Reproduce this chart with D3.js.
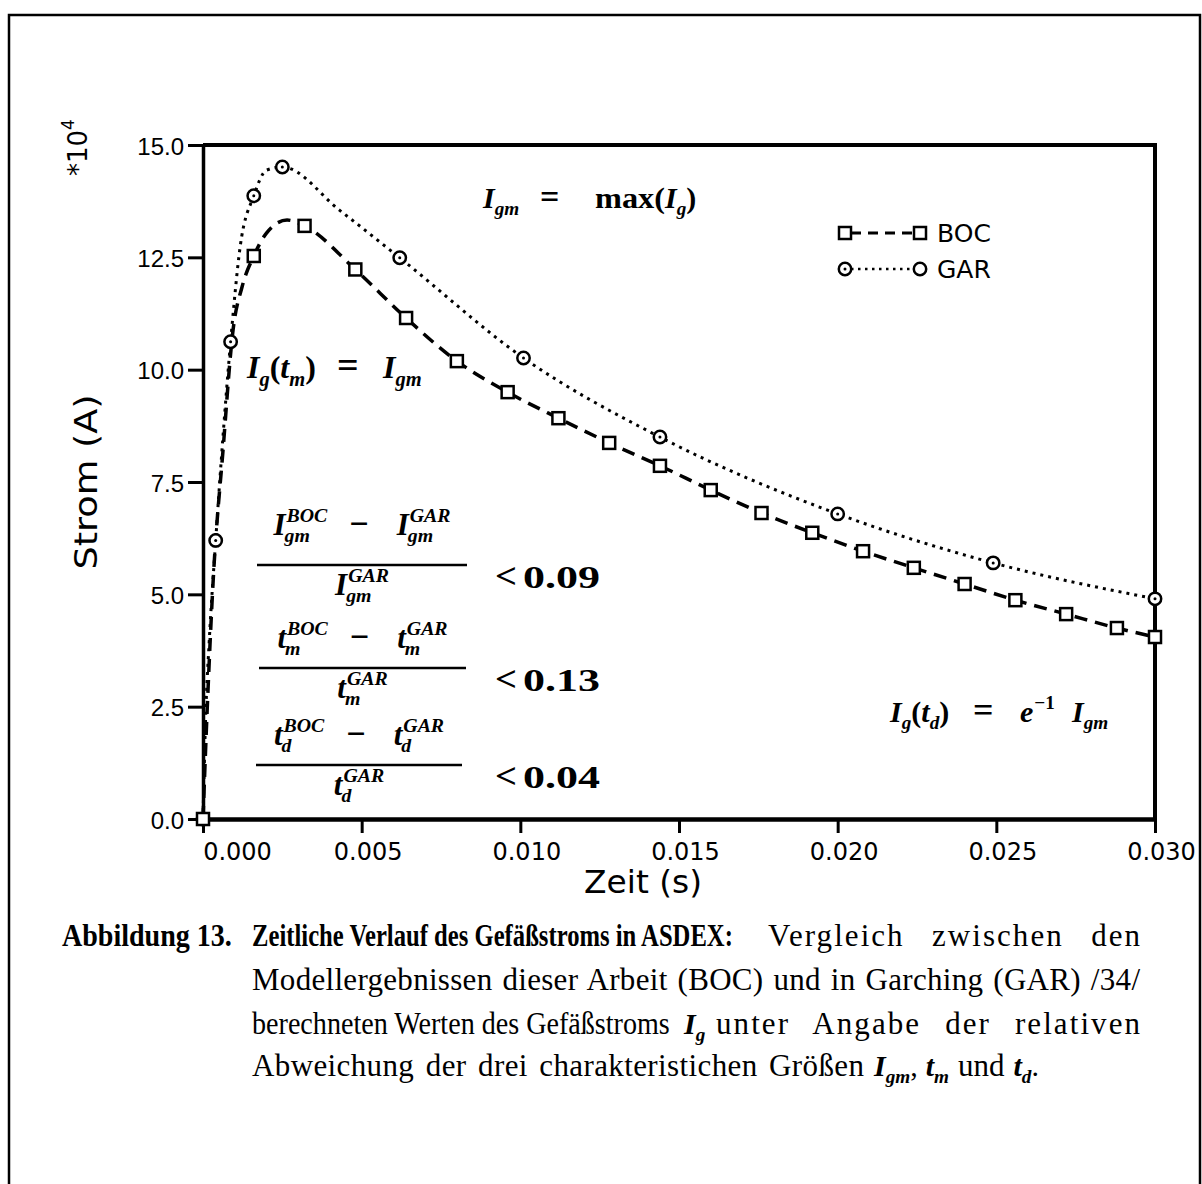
<!DOCTYPE html>
<html>
<head>
<meta charset="utf-8">
<script src="https://cdn.jsdelivr.net/npm/d3@7"></script>
<style>
  html, body { margin: 0; padding: 0; background: #fff; }
  svg { display: block; }
</style>
</head>
<body>
<script>
// values (current in units of 1e4 A, time in s)
const bocLineT = [0, 0.00013, 0.00032, 0.00063, 0.00095, 0.00123, 0.0016, 0.0020, 0.00265, 0.0032, 0.0048, 0.0064, 0.0080, 0.0096, 0.0112, 0.0128, 0.0144, 0.0160, 0.0176, 0.0192, 0.0208, 0.0224, 0.0240, 0.0256, 0.0272, 0.0288, 0.0300]
const bocLineI = [0, 2.4, 5.3, 8.2, 10.9, 11.84, 12.53, 13.04, 13.33, 13.20, 12.23, 11.15, 10.19, 9.50, 8.92, 8.37, 7.86, 7.32, 6.81, 6.37, 5.96, 5.59, 5.23, 4.87, 4.56, 4.25, 4.05]
const bocMarkT = [0, 0.0016, 0.0032, 0.0048, 0.0064, 0.0080, 0.0096, 0.0112, 0.0128, 0.0144, 0.0160, 0.0176, 0.0192, 0.0208, 0.0224, 0.0240, 0.0256, 0.0272, 0.0288, 0.0300]
const bocMarkI = [0, 12.53, 13.20, 12.23, 11.15, 10.19, 9.50, 8.92, 8.37, 7.86, 7.32, 6.81, 6.37, 5.96, 5.59, 5.23, 4.87, 4.56, 4.25, 4.05]

const garLineT = [0, 0.00008, 0.0002, 0.0004, 0.00087, 0.00117, 0.0016, 0.0020, 0.0025, 0.0043, 0.0062, 0.0101, 0.0144, 0.0200, 0.0249, 0.0300]
const garLineI = [0, 2.2, 4.0, 6.2, 10.62, 12.73, 13.87, 14.44, 14.51, 13.55, 12.49, 10.26, 8.50, 6.79, 5.70, 4.90]
const garMarkT = [0, 0.0004, 0.00087, 0.0016, 0.0025, 0.0062, 0.0101, 0.0144, 0.0200, 0.0249, 0.0300]
const garMarkI = [0, 6.2, 10.62, 13.87, 14.51, 12.49, 10.26, 8.50, 6.79, 5.70, 4.90]

const xTicks = [0, 0.005, 0.010, 0.015, 0.020, 0.025, 0.030]
const yTicks = [0, 2.5, 5.0, 7.5, 10.0, 12.5, 15.0]
const seriesNames = ['BOC', 'GAR']

const svgWidth = 1202
const svgHeight = 1184
const margin = {top: 145, right: 47, bottom: 365, left: 203}
const gWidth = svgWidth - margin.left - margin.right
const gHeight = svgHeight - margin.top - margin.bottom

const serif = '"Liberation Serif", "Times New Roman", serif'
const sans = '"DejaVu Sans", sans-serif'

const svg = d3.select('body').append('svg')
  .attr('width', svgWidth)
  .attr('height', svgHeight)

// outer frame of the page
svg.append('rect')
  .attr('x', 9).attr('y', 15)
  .attr('width', 1191).attr('height', 1200)
  .attr('fill', 'none').attr('stroke', '#000').attr('stroke-width', 2.5)

const x = d3.scaleLinear().domain([0, 0.03]).range([0, gWidth])
const y = d3.scaleLinear().domain([0, 15]).range([gHeight, 0])

const g = svg.append('g').attr('transform', 'translate(' + margin.left + ',' + margin.top + ')')

// plot box (top + right)
g.append('path')
  .attr('d', 'M0,0H' + gWidth + 'V' + gHeight)
  .attr('fill', 'none').attr('stroke', '#000').attr('stroke-width', 4)

// axes
const xAxis = d3.axisBottom(x).tickValues(xTicks).tickFormat(d3.format('.3f')).tickSize(14).tickSizeOuter(0)
const yAxis = d3.axisLeft(y).tickValues(yTicks).tickFormat(d3.format('.1f')).tickSize(15).tickSizeOuter(0)

const gx = g.append('g').attr('transform', 'translate(0,' + gHeight + ')').call(xAxis)
gx.select('.domain').attr('stroke-width', 4.5)
gx.selectAll('.tick line').attr('stroke-width', 3)
gx.selectAll('.tick text')
  .attr('font-family', sans).attr('font-size', 24).attr('fill', '#000')
  .attr('y', 0).attr('dy', 41)
  .attr('x', function(d) { return d === 0 ? 34 : 6 })

const gy = g.append('g').call(yAxis)
gy.select('.domain').attr('stroke-width', 3.5)
gy.selectAll('.tick line').attr('stroke-width', 3)
gy.selectAll('.tick text')
  .attr('font-family', '"Liberation Sans", Arial, sans-serif').attr('font-size', 24).attr('fill', '#000')
  .attr('x', -19).attr('dy', 9)

// lines
const line = d3.line().curve(d3.curveMonotoneX)
  .x(function(d) { return x(d[0]) })
  .y(function(d) { return y(d[1]) })

const bocLine = bocLineT.map(function(t, i) { return [t, bocLineI[i]] })
const garLine = garLineT.map(function(t, i) { return [t, garLineI[i]] })

g.append('path').datum(garLine).attr('d', line)
  .attr('fill', 'none').attr('stroke', '#000').attr('stroke-width', 3)
  .attr('stroke-dasharray', '3,5')
g.append('path').datum(bocLine).attr('d', line)
  .attr('fill', 'none').attr('stroke', '#000').attr('stroke-width', 3.5)
  .attr('stroke-dasharray', '13,8')

function square(sel, cx, cy) {
  sel.append('rect').attr('x', cx - 6).attr('y', cy - 6).attr('width', 12).attr('height', 12)
    .attr('fill', '#fff').attr('stroke', '#000').attr('stroke-width', 2.5)
}
function circle(sel, cx, cy, dot) {
  sel.append('circle').attr('cx', cx).attr('cy', cy).attr('r', 6.2)
    .attr('fill', '#fff').attr('stroke', '#000').attr('stroke-width', 2.5)
  if (dot) sel.append('circle').attr('cx', cx).attr('cy', cy).attr('r', 1.5).attr('fill', '#000')
}

const marks = g.append('g')
garMarkT.forEach(function(t, i) { circle(marks, x(t), y(garMarkI[i]), true) })
bocMarkT.forEach(function(t, i) { square(marks, x(t), y(bocMarkI[i])) })

// legend
const legend = svg.append('g').attr('transform', 'translate(845,233)')
seriesNames.forEach(function(name, i) {
  const row = legend.append('g').attr('transform', 'translate(0,' + i * 36 + ')')
  row.append('line').attr('x1', 6).attr('x2', 69).attr('y1', 0).attr('y2', 0)
    .attr('stroke', '#000')
    .attr('stroke-width', i === 0 ? 3 : 2.5)
    .attr('stroke-dasharray', i === 0 ? '10,7' : '2.5,4.5')
  if (i === 0) { square(row, 0, 0); square(row, 75, 0) }
  else { circle(row, 0, 0, true); circle(row, 75, 0, false) }
  row.append('text').attr('x', 92).attr('y', 9)
    .attr('font-family', sans).attr('font-size', 25).text(name)
})

// axis titles
svg.append('text')
  .attr('transform', 'translate(97,482) rotate(-90)')
  .attr('text-anchor', 'middle')
  .attr('font-family', sans).attr('font-size', 32)
  .attr('textLength', 175).attr('lengthAdjust', 'spacingAndGlyphs')
  .text('Strom (A)')

const mult = svg.append('text')
  .attr('transform', 'translate(87,176) rotate(-90)')
  .attr('font-family', sans).attr('font-size', 26)
mult.append('tspan').text('*10')
mult.append('tspan').attr('dy', -13).attr('font-size', 17).text('4')

svg.append('text')
  .attr('x', 643).attr('y', 893)
  .attr('text-anchor', 'middle')
  .attr('font-family', sans).attr('font-size', 32)
  .attr('textLength', 118).attr('lengthAdjust', 'spacingAndGlyphs')
  .text('Zeit (s)')

// rich text helper: pieces laid out left to right, with optional sub/superscripts
function styleText(t, f, size) {
  t.attr('font-family', serif).attr('font-size', size)
    .attr('font-weight', f.indexOf('b') >= 0 ? 'bold' : 'normal')
    .attr('font-style', f.indexOf('i') >= 0 ? 'italic' : 'normal')
}
function rich(parent, pieces, size, x0, y0, anchor) {
  const grp = parent.append('g')
  let cx = 0
  pieces.forEach(function(p) {
    if (p.at !== undefined) cx = p.at
    if (p.gap) { cx += p.gap; return }
    const ps = p.size || size
    let w = 0
    if (p.t) {
      const t = grp.append('text').attr('x', cx).attr('y', 0).text(p.t)
      styleText(t, p.f || 'bi', ps)
      if (p.len) t.attr('textLength', p.len).attr('lengthAdjust', 'spacingAndGlyphs')
      w = p.len || t.node().getComputedTextLength()
    }
    const s = ps * (p.ss || 0.64)
    let w2 = 0
    if (p.sup) {
      const t = grp.append('text').attr('x', cx + w + 1).attr('y', -ps * 0.42).text(p.sup)
      styleText(t, p.supf || 'bi', s)
      w2 = Math.max(w2, t.node().getComputedTextLength() + 1)
    }
    if (p.sub) {
      const t = grp.append('text').attr('x', cx + w + (p.sup ? -1 : 0)).attr('y', ps * 0.24).text(p.sub)
      styleText(t, p.subf || 'bi', s)
      w2 = Math.max(w2, t.node().getComputedTextLength())
    }
    cx += w + w2
  })
  const shift = anchor === 'middle' ? -cx / 2 : 0
  grp.attr('transform', 'translate(' + (x0 + shift) + ',' + y0 + ')')
  return cx
}

// formulas inside the plot
rich(svg, [{t: 'I', sub: 'gm'}, {at: 57, t: '=', f: 'b', size: 34}, {at: 112, t: 'max(', f: 'b', len: 70}, {t: 'I', sub: 'g'}, {t: ')', f: 'b'}], 30, 483, 208)
rich(svg, [{t: 'I', sub: 'g'}, {t: '(', f: 'b'}, {t: 't', sub: 'm'}, {t: ')', f: 'b'}, {at: 90, t: '=', f: 'b', size: 38}, {at: 136, t: 'I', sub: 'gm'}], 32, 247, 378)
rich(svg, [{t: 'I', sub: 'g'}, {t: '(', f: 'b'}, {t: 't', sub: 'd'}, {t: ')', f: 'b'}, {at: 83, t: '=', f: 'b', size: 36}, {at: 130, t: 'e', sup: '−1', supf: 'b'}, {at: 182, t: 'I', sub: 'gm'}], 30, 890, 722)

function fraction(sym, sub, barY, numOff, x0, x1, value) {
  const mid = (x0 + x1) / 2
  const term = function(sp) { return {t: sym, sup: sp, sub: sub, ss: 0.64} }
  rich(svg, [term('BOC'), {gap: 22}, {t: '−', f: 'b', size: 34}, {gap: 28}, term('GAR')], 31, mid, barY - numOff, 'middle')
  svg.append('line').attr('x1', x0).attr('x2', x1).attr('y1', barY).attr('y2', barY)
    .attr('stroke', '#000').attr('stroke-width', 2.5)
  rich(svg, [term('GAR')], 31, mid, barY + 30, 'middle')
  rich(svg, [{t: '<', f: 'b', size: 36, len: 22}, {at: 28, t: value, f: 'b', size: 32, len: 77}], 32, 495, barY + 23)
}
fraction('I', 'gm', 565, 30, 257, 467, '0.09')
fraction('t', 'm', 668, 20, 259, 466, '0.13')
fraction('t', 'd', 765, 20, 256, 462, '0.04')

// caption: justified with letter + word spacing, squeezed by scaling if too long
function capLine(txt, x0, y0, len, bold) {
  const t = svg.append('text')
    .attr('font-family', serif).attr('font-size', 31)
    .attr('font-weight', bold ? 'bold' : 'normal')
    .text(txt)
  const w = t.node().getComputedTextLength()
  const gaps = txt.split(' ').length - 1
  if (w > len || gaps === 0) {
    t.attr('transform', 'translate(' + x0 + ',' + y0 + ') scale(' + (len / w) + ',1)')
    return
  }
  t.attr('x', x0).attr('y', y0)
  const ls = 0.55 * (len - w) / (txt.length - 1)
  t.attr('letter-spacing', ls)
  const w2 = t.node().getComputedTextLength() - ls
  t.attr('word-spacing', Math.max(0, (len - w2) / gaps))
}
capLine('Abbildung 13.', 62, 946, 170, true)
capLine('Zeitliche Verlauf des Gefäßstroms in ASDEX:', 252, 946, 481, true)
capLine('Vergleich zwischen den', 768, 946, 372, false)
capLine('Modellergebnissen dieser Arbeit (BOC) und in Garching (GAR) /34/', 252, 990, 888, false)
capLine('berechneten Werten des Gefäßstroms', 252, 1034, 418, false)
rich(svg, [{t: 'I', f: 'bi', sub: 'g', subf: 'bi'}], 30, 684, 1034)
capLine('unter Angabe der relativen', 716, 1034, 424, false)
capLine('Abweichung der drei charakteristichen Größen', 252, 1076, 612, false)
rich(svg, [
  {t: 'I', f: 'bi', sub: 'gm', subf: 'bi'}, {t: ',', f: 'r'}, {gap: 8},
  {t: 't', f: 'bi', sub: 'm', subf: 'bi'}, {gap: 9}, {t: 'und', f: 'r', size: 31}, {gap: 9},
  {t: 't', f: 'bi', sub: 'd', subf: 'bi'}, {t: '.', f: 'r'}
], 30, 874, 1076)
</script>
</body>
</html>
